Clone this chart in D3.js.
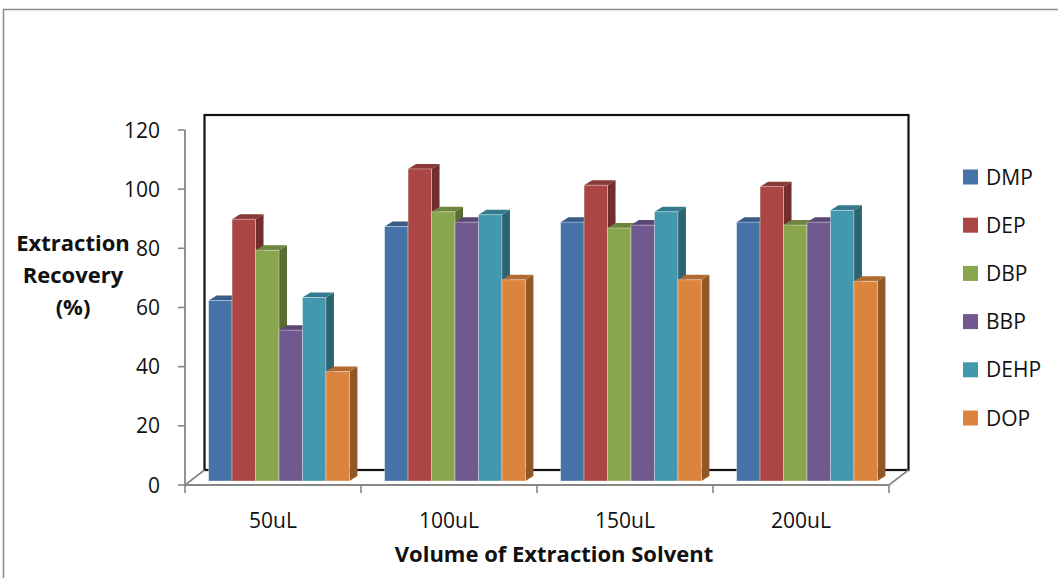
<!DOCTYPE html>
<html>
<head>
<meta charset="utf-8">
<script src="https://cdn.jsdelivr.net/npm/d3@7"></script>
<style>
  html, body { margin:0; padding:0; background:#fff; }
  svg { display:block; }
</style>
</head>
<body>
<div id="chart"></div>
<script>
// 3D 分组柱图：萃取溶剂体积 vs 回收率
const CATS = ["50uL", "100uL", "150uL", "200uL"];
const SERIES = ["DMP", "DEP", "DBP", "BBP", "DEHP", "DOP"];
const COLORS = ["#4572A7", "#AA4643", "#89A54E", "#71588F", "#4198AF", "#DB843D"];
// 每个体积下的回收率，顺序同 SERIES
const V50  = [61, 88.5, 78, 51, 62, 37];
const V100 = [86, 105.5, 91, 87.5, 90, 68];
const V150 = [87.5, 100, 85.5, 86.5, 91, 68];
const V200 = [87.5, 99.5, 86.5, 87.5, 91.5, 67.5];
const VALUES = [V50, V100, V150, V200];
const Y_TICKS = [0, 20, 40, 60, 80, 100, 120];

const W = 1058, H = 578;
const FONT = "'Open Sans', 'Noto Sans', sans-serif";
const AX = "#878787";

const svg = d3.select("#chart").append("svg").attr("width", W).attr("height", H);

// 外框
svg.append("rect").attr("x", 3.5).attr("y", 9.5).attr("width", 1100).attr("height", 600)
  .attr("fill", "none").attr("stroke", "#8c8c8c").attr("stroke-width", 1.5);

// 前平面坐标
const y = d3.scaleLinear().domain([0, 120]).range([485, 130]);
const x0 = d3.scaleBand().domain(CATS).range([185, 889]);
const x1 = d3.scaleBand().domain(SERIES).range([x0.bandwidth() * 0.1, x0.bandwidth() * 0.9]);

const WALL = { dx: 19.5, dy: -15 };   // 背墙偏移
const FACE = { dx: 6, dy: -4 };       // 柱前面偏移
const DEP = { dx: 8, dy: -5 };        // 柱深度

// 背墙
const wl = x0.range()[0] + WALL.dx, wr = x0.range()[1] + WALL.dx;
const wt = y(120) + WALL.dy, wb = y(0) + WALL.dy;
svg.append("rect").attr("x", wl).attr("y", wt).attr("width", wr - wl).attr("height", wb - wt)
  .attr("fill", "#fff").attr("stroke", "#111").attr("stroke-width", 2.2);

// 地板
const fl = x0.range()[0], fr = x0.range()[1], fy = y(0);
svg.append("path")
  .attr("d", `M${fl},${fy} L${wl},${wb} M${fr},${fy} L${wr},${wb}`)
  .attr("stroke", AX).attr("stroke-width", 1.6).attr("fill", "none");

// Y 轴
svg.append("line").attr("x1", fl).attr("x2", fl).attr("y1", y(120)).attr("y2", y(0))
  .attr("stroke", AX).attr("stroke-width", 1.8);
Y_TICKS.forEach(v => {
  svg.append("line").attr("x1", fl - 7).attr("x2", fl).attr("y1", y(v)).attr("y2", y(v))
    .attr("stroke", AX).attr("stroke-width", 1.6);
  svg.append("text").attr("x", 160).attr("y", y(v) + 7.5).attr("text-anchor", "end")
    .attr("style", `font:21px ${FONT};fill:#111`).text(v);
});

// X 轴
svg.append("line").attr("x1", fl).attr("x2", fr).attr("y1", fy).attr("y2", fy)
  .attr("stroke", AX).attr("stroke-width", 1.8);
[...CATS.map(c => x0(c)), fr].forEach(xv => {
  svg.append("line").attr("x1", xv).attr("x2", xv).attr("y1", fy).attr("y2", fy + 8)
    .attr("stroke", AX).attr("stroke-width", 1.6);
});
CATS.forEach(c => {
  svg.append("text").attr("x", x0(c) + x0.bandwidth() / 2).attr("y", 528)
    .attr("text-anchor", "middle").attr("style", `font:21px ${FONT};fill:#111`).text(c);
});

// 柱
const bars = svg.append("g");
CATS.forEach((c, ci) => {
  SERIES.forEach((s, si) => {
    const v = VALUES[ci][si];
    const col = d3.color(COLORS[si]);
    const xl = x0(c) + x1(s) + FACE.dx, xr = xl + x1.bandwidth();
    const yt = y(v) + FACE.dy, yb = y(0) + FACE.dy;
    // 侧面
    bars.append("path")
      .attr("d", `M${xr},${yt} L${xr + DEP.dx},${yt + DEP.dy} L${xr + DEP.dx},${yb + DEP.dy} L${xr},${yb} Z`)
      .attr("fill", col.darker(1.15));
    // 顶面
    bars.append("path")
      .attr("d", `M${xl},${yt} L${xl + DEP.dx},${yt + DEP.dy} L${xr + DEP.dx},${yt + DEP.dy} L${xr},${yt} Z`)
      .attr("fill", col.darker(0.6));
    // 正面
    bars.append("rect").attr("x", xl).attr("y", yt).attr("width", x1.bandwidth()).attr("height", yb - yt)
      .attr("fill", col).attr("stroke", "rgba(255,255,255,0.45)").attr("stroke-width", 0.8);
  });
});

// 轴标题
const yt = svg.append("text").attr("text-anchor", "middle")
  .attr("style", `font:bold 22px ${FONT};fill:#111`);
[["Extraction", 251], ["Recovery", 283], ["(%)", 315]].forEach(([t, yy]) => {
  yt.append("tspan").attr("x", 73).attr("y", yy).text(t);
});
svg.append("text").attr("x", 554).attr("y", 562).attr("text-anchor", "middle")
  .attr("style", `font:bold 22px ${FONT};fill:#111`).text("Volume of Extraction Solvent");

// 图例
const lg = svg.append("g");
SERIES.forEach((s, i) => {
  const cy = 177 + i * 48.2;
  lg.append("rect").attr("x", 963).attr("y", cy - 7.5).attr("width", 15).attr("height", 15)
    .attr("fill", COLORS[i]);
  lg.append("text").attr("x", 986).attr("y", cy + 7.5)
    .attr("style", `font:21px ${FONT};fill:#111`).text(s);
});
</script>
</body>
</html>
